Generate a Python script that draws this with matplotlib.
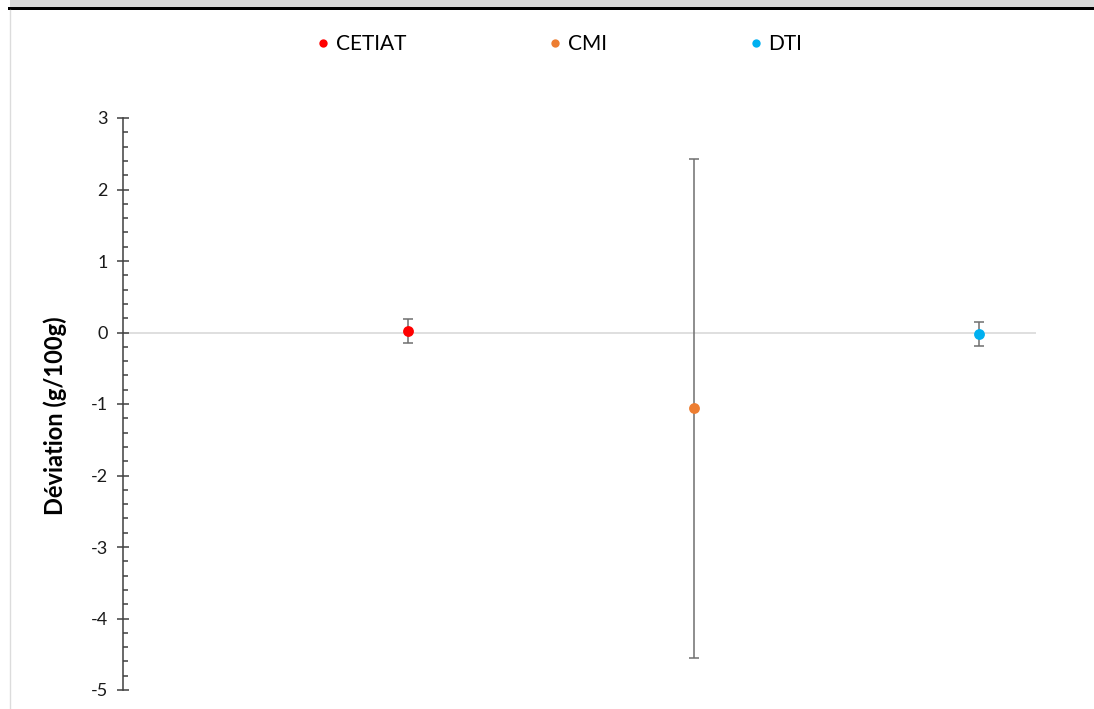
import matplotlib
matplotlib.use("Agg")
import matplotlib.pyplot as plt
from matplotlib.ticker import MultipleLocator
from matplotlib.patches import Rectangle
from matplotlib.lines import Line2D

labs = ["CETIAT", "CMI", "DTI"]
xpos = [1, 2, 3]
dev = [0.02, -1.06, -0.02]
err = [0.17, 3.49, 0.17]
colors = ["#ff0000", "#ed7d31", "#00b0f0"]
yticks = [-5, -4, -3, -2, -1, 0, 1, 2, 3]

plt.rcParams['font.family'] = ['Lato', 'DejaVu Sans']

W, H = 1094, 709
fig = plt.figure(figsize=(W / 100, H / 100), dpi=100)

# frame decorations
fig.patches.append(Rectangle((10 / W, 1 - 7 / H), 1, 7 / H, transform=fig.transFigure,
                             facecolor="#d9d9d9", edgecolor="none", zorder=0))
fig.patches.append(Rectangle((8 / W, 1 - 10 / H), 1, 3 / H, transform=fig.transFigure,
                             facecolor="#000000", edgecolor="none", zorder=1))
fig.lines.append(Line2D([9.5 / W, 9.5 / W], [0, 1 - 10 / H], transform=fig.transFigure,
                        color="#dcdcdc", lw=1))

ax = fig.add_axes([123 / W, 19 / H, 913 / W, 572 / H])
ax.set_xlim(0, 3.2)
ax.set_ylim(-5, 3)

ax.axhline(0, color="#d9d9d9", lw=1.2, zorder=1)

handles = []
for x, y, e, c, l in zip(xpos, dev, err, colors, labs):
    ax.errorbar(x, y, yerr=e, fmt="none", ecolor="#6f6f6f", elinewidth=1.1,
                capsize=3.5, capthick=1.1, zorder=2)
    h = ax.plot(x, y, "o", color=c, markersize=7.8, markeredgewidth=0, label=l, zorder=3)[0]
    handles.append(h)

for s in ["top", "right", "bottom"]:
    ax.spines[s].set_visible(False)
ax.spines["left"].set_color("#404040")
ax.spines["left"].set_linewidth(1.1)
ax.set_xticks([])
ax.set_yticks(yticks)
ax.set_yticklabels([str(t) for t in yticks])
ax.yaxis.set_minor_locator(MultipleLocator(0.2))
ax.tick_params(axis="y", which="major", direction="inout", length=8, width=1.1,
               color="#404040", labelsize=13, labelcolor="#1a1a1a", pad=7)
ax.tick_params(axis="y", which="minor", direction="in", length=3.8, width=1.1,
               color="#404040")

fig.text(55 / W, 1 - 416 / H, "Déviation (g/100g)", rotation=90, ha="center", va="center",
         fontsize=17, fontweight="bold", color="#000000")

leg = fig.legend(handles=[Line2D([], [], marker="o", ls="none", color=c, markersize=6,
                                 markeredgewidth=0) for c in colors],
                 labels=labs, ncol=3, loc="center", bbox_to_anchor=(0.512, 1 - 44 / H),
                 frameon=False, fontsize=15, handlelength=0.5, handletextpad=0.35,
                 columnspacing=6.9)
for t in leg.get_texts():
    t.set_color("#000000")

fig.savefig("out.png", dpi=100)
